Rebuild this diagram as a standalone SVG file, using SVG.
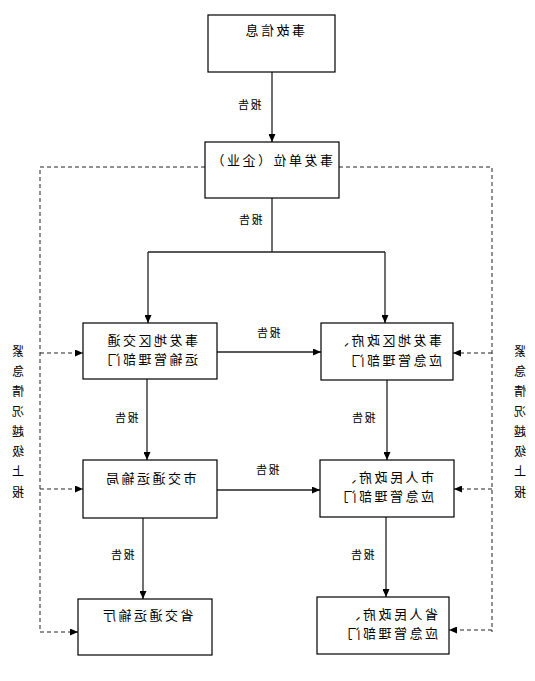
<svg xmlns="http://www.w3.org/2000/svg" width="535" height="681" viewBox="0 0 535 681">
<style>
.box{fill:#fff;stroke:#000;stroke-width:1.2}
.ln{fill:none;stroke:#222;stroke-width:1.3}
.dl{fill:none;stroke:#222;stroke-width:1;stroke-dasharray:4 3}
.t{font-family:"Noto Sans CJK SC","Noto Sans",sans-serif;font-size:13px;letter-spacing:2.5px;fill:#000}
.l{font-family:"Noto Sans CJK SC","Noto Sans",sans-serif;font-size:11px;letter-spacing:1.5px;fill:#000;text-anchor:middle}
.s{font-family:"Noto Sans CJK SC","Noto Sans",sans-serif;font-size:12px;fill:#000;text-anchor:middle}
.c{text-anchor:middle}
</style>
<defs>
<marker id="ah" markerWidth="8" markerHeight="7" refX="8" refY="3.5" orient="auto" markerUnits="userSpaceOnUse">
<path d="M0,0 L8,3.5 L0,7 z" fill="#000"/>
</marker>
</defs>
<rect width="535" height="681" fill="#fff"/>
<g id="connectors">
<path class="ln" d="M272,72 V142" marker-end="url(#ah)"/>
<path class="ln" d="M272,198 V252 M148,252 H385"/>
<path class="ln" d="M148,252 V323" marker-end="url(#ah)"/>
<path class="ln" d="M385,252 V323" marker-end="url(#ah)"/>
<path class="ln" d="M217,352 H321" marker-end="url(#ah)"/>
<path class="ln" d="M147,379 V460" marker-end="url(#ah)"/>
<path class="ln" d="M387,380 V460" marker-end="url(#ah)"/>
<path class="ln" d="M217,490 H320" marker-end="url(#ah)"/>
<path class="ln" d="M143,518 V599" marker-end="url(#ah)"/>
<path class="ln" d="M386,517 V597" marker-end="url(#ah)"/>
<path class="dl" d="M205,167 H40 V632"/>
<path class="dl" d="M40,353 H83" marker-end="url(#ah)"/>
<path class="dl" d="M40,489 H83" marker-end="url(#ah)"/>
<path class="dl" d="M40,632 H78" marker-end="url(#ah)"/>
<path class="dl" d="M339,167 H492 V632"/>
<path class="dl" d="M492,353 H453" marker-end="url(#ah)"/>
<path class="dl" d="M492,489 H454" marker-end="url(#ah)"/>
<path class="dl" d="M492,630 H449" marker-end="url(#ah)"/>
</g>
<g id="n1"><rect class="box" x="208" y="15" width="127" height="57"/></g>
<g id="n2"><rect class="box" x="205" y="142" width="134" height="56"/></g>
<g id="n3"><rect class="box" x="83" y="323" width="134" height="56"/></g>
<g id="n4"><rect class="box" x="321" y="323" width="132" height="57"/></g>
<g id="n5"><rect class="box" x="83" y="460" width="134" height="58"/></g>
<g id="n6"><rect class="box" x="320" y="460" width="134" height="57"/></g>
<g id="n7"><rect class="box" x="78" y="599" width="134" height="56"/></g>
<g id="n8"><rect class="box" x="317" y="597" width="132" height="57"/></g>
<g id="texts" transform="matrix(-1 0 0 1 535 0)">
<text class="t c" x="261" y="35">事故信息</text>
<text class="t c" x="264" y="165">事发单位（企业）</text>
<text class="t" x="337" y="345">事发地区交通</text>
<text class="t" x="337" y="364">运输管理部门</text>
<text class="t" x="93" y="345">事发地区政府、</text>
<text class="t" x="93" y="365">应急管理部门</text>
<text class="t c" x="385" y="483">市交通运输局</text>
<text class="t" x="101" y="482">市人民政府、</text>
<text class="t" x="101" y="501">应急管理部门</text>
<text class="t c" x="388" y="620">省交通运输厅</text>
<text class="t" x="97" y="619">省人民政府、</text>
<text class="t" x="97" y="638">应急管理部门</text>
<text class="l" x="286" y="109">报告</text>
<text class="l" x="285" y="224">报告</text>
<text class="l" x="267" y="337">报告</text>
<text class="l" x="409" y="422">报告</text>
<text class="l" x="172" y="422">报告</text>
<text class="l" x="268" y="474">报告</text>
<text class="l" x="413" y="559">报告</text>
<text class="l" x="173" y="559">报告</text>
<text class="s" x="517" y="356">紧</text>
<text class="s" x="517" y="376">急</text>
<text class="s" x="517" y="396">情</text>
<text class="s" x="517" y="416">况</text>
<text class="s" x="517" y="436">越</text>
<text class="s" x="517" y="456">级</text>
<text class="s" x="517" y="476">上</text>
<text class="s" x="517" y="497">报</text>
<text class="s" x="15" y="356">紧</text>
<text class="s" x="15" y="376">急</text>
<text class="s" x="15" y="396">情</text>
<text class="s" x="15" y="416">况</text>
<text class="s" x="15" y="436">越</text>
<text class="s" x="15" y="456">级</text>
<text class="s" x="15" y="476">上</text>
<text class="s" x="15" y="497">报</text>
</g>
</svg>
